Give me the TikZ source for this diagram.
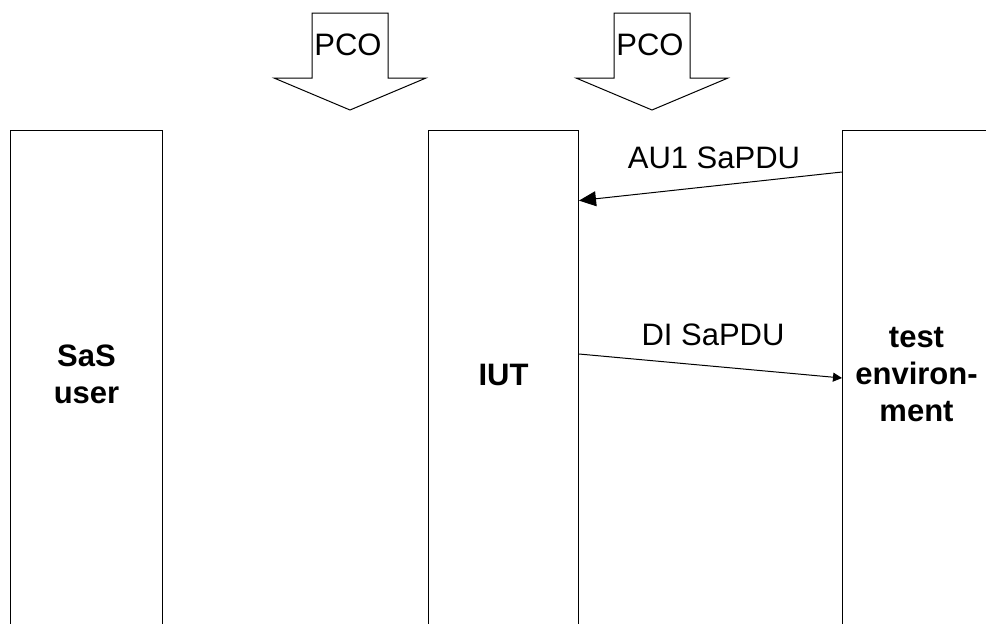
\documentclass[tikz,border=0pt]{standalone}
\usepackage{fontspec}
\setmainfont{Liberation Sans}
\usetikzlibrary{arrows.meta}
\tikzset{
  every picture/.style={font={\fontsize{15.5}{18.5}\selectfont}, >=Triangle},
  lane/.style={draw, line width=0.5pt, anchor=north west, minimum height=248pt, inner sep=0pt},
  lanetext/.style={font={\fontsize{15.5}{18.5}\selectfont\bfseries}, align=center},
  msg/.style={line width=0.5pt},
  pco/.style={draw, line width=0.5pt, fill=white}}

\begin{document}
\begin{tikzpicture}[x=0.5pt, y=-0.5pt]
    \useasboundingbox (0,0) rectangle (986,623);

    % the three lanes, open at the bottom
    \node[lane, minimum width=76pt] (sas) at (10,130) {};
    \node[lane, minimum width=75pt] (iut) at (428,130) {};
    \node[lane, minimum width=74pt] (env) at (842,130) {};

    \node[lanetext] (sastext) at ([yshift=2pt]sas.center) {SaS\\user};
    \node[lanetext] (iuttext) at ([yshift=2pt]iut.center) {IUT};
    \node[lanetext] (envtext) at ([yshift=2pt]env.center) {test\\environ-\\ment};

    % points of control and observation
    \foreach \cx/\name in {350/pcoa, 652/pcob} {
      \draw[pco] (\cx-38,13) -- (\cx+38,13) -- (\cx+38,78) -- (\cx+76,78)
        -- (\cx,110) -- (\cx-76,78) -- (\cx-38,78) -- cycle;
      \node[anchor=base] (\name) at (\cx-2,55) {PCO};
    }

    % messages
    \draw[msg, -{Triangle[length=8.5pt, width=7.5pt]}]
      ([yshift=-21pt]env.north west) -- ([yshift=-35.3pt]iut.north east);
    \node[anchor=base] (au) at (714,168) {AU1 SaPDU};

    \draw[msg, -{Triangle[length=4.5pt, width=4.5pt]}]
      ([yshift=-112pt]iut.north east) -- ([yshift=-124pt]env.north west);
    \node[anchor=base] (di) at (713,345) {DI SaPDU};
\end{tikzpicture}
\end{document}
